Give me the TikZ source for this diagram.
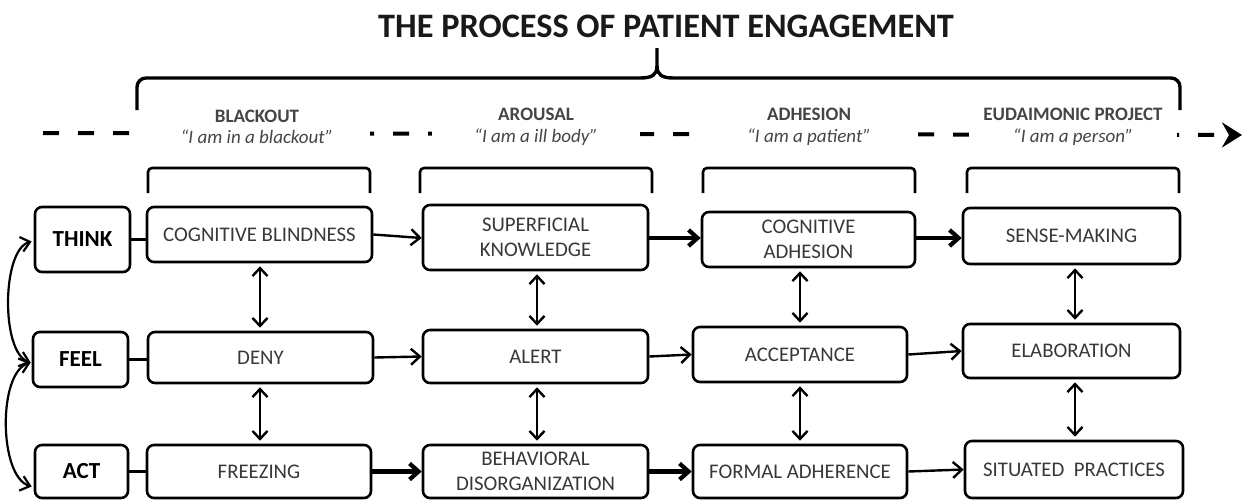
\documentclass[tikz,border=0pt]{standalone}
\usepackage{fontspec}
\setmainfont{Carlito}
\usetikzlibrary{arrows.meta,calc}
\definecolor{boxtext}{HTML}{383838}
\definecolor{stagetext}{HTML}{454545}
\begin{document}
\begin{tikzpicture}[x=1pt,y=-1pt,
  box/.style={draw=black, line width=2.6pt, rounded corners=7pt, fill=white,
    inner sep=0pt, align=center, text=boxtext,
    font=\fontsize{20.8}{25}\selectfont},
  facet/.style={box, text=black, font=\fontsize{23}{25}\bfseries\selectfont},
  stage/.style={fill=white, inner sep=0pt, minimum height=46pt, align=center,
    text=stagetext, font=\fontsize{19}{21.5}\selectfont},
  flow/.style={line width=2.4pt, -{Straight Barb[length=9pt,width=16pt]}},
  strong/.style={line width=4.2pt, -{Straight Barb[length=9pt,width=16pt]}},
  link/.style={line width=2.4pt,
    {Straight Barb[length=8pt,width=15pt]}-{Straight Barb[length=8pt,width=15pt]},
    shorten <=3pt, shorten >=3pt},
  loop/.style={line width=2.2pt,
    {Straight Barb[length=9pt,width=15pt]}-{Straight Barb[length=9pt,width=15pt]}},
  brace/.style={line width=3.4pt, rounded corners=9pt},
  bracket/.style={line width=2.6pt, rounded corners=4pt}
]
\useasboundingbox (0,0) rectangle (1247,499);

% title
\node[anchor=base, font=\fontsize{34.3}{38}\bfseries\selectfont, text=black!90]
  (title) at (666,37) {THE PROCESS OF PATIENT ENGAGEMENT};

% dashed time line running under the stage names
\coordinate (tlstart) at (43,133);
\coordinate (tlend) at (1242,135);
\draw[line width=4pt, dash pattern=on 16pt off 19pt, -{Stealth[length=20pt,width=25pt,inset=7pt]}]
  (tlstart) -- (tlend);

% stage names
\node[stage, minimum width=226pt] (s1) at (257,127)
  {\textbf{BLACKOUT}\\\itshape “I am in a blackout”};
\node[stage, minimum width=208pt] (s2) at (536,127)
  {\textbf{AROUSAL}\\\itshape “I am a ill body”};
\node[stage, minimum width=208pt] (s3) at (809,127)
  {\textbf{ADHESION}\\\itshape “I am a patient”};
\node[stage, minimum width=208pt] (s4) at (1073,127)
  {\textbf{EUDAIMONIC PROJECT}\\\itshape “I am a person”};

% overall brace
\coordinate (bl) at (137,110);
\coordinate (br) at (1180,110);
\coordinate (tip) at (657,48);
\draw[brace] (bl) -- (137,78) -- (640,78);
\draw[brace] (br) -- (1180,78) -- (674,78);
\draw[line width=3.4pt] (640,78) .. controls (652,78) and (657,75) .. (657,66) -- (tip);
\draw[line width=3.4pt] (674,78) .. controls (662,78) and (657,75) .. (657,66);

% stage brackets
\draw[bracket] (148,193) -- (148,168) -- (370,168) -- (370,193);
\draw[bracket] (420,193) -- (420,168) -- (652,168) -- (652,193);
\draw[bracket] (703,193) -- (703,168) -- (915,168) -- (915,193);
\draw[bracket] (967,193) -- (967,168) -- (1179,168) -- (1179,193);

% facets
\node[facet, minimum width=95pt, minimum height=65pt] (think) at (82.5,239.5) {THINK};
\node[facet, minimum width=95pt, minimum height=55pt] (feel) at (80.5,359.5) {FEEL};
\node[facet, minimum width=93pt, minimum height=53pt] (act) at (81.5,471.5) {ACT};

% blackout
\node[box, minimum width=225pt, minimum height=55pt] (cb) at (259.5,234.5) {COGNITIVE BLINDNESS};
\node[box, minimum width=225pt, minimum height=51pt] (deny) at (260.5,357.5) {DENY};
\node[box, minimum width=224pt, minimum height=53pt] (frz) at (259,471.5) {FREEZING};

% arousal
\node[box, minimum width=225pt, minimum height=65pt] (sk) at (535.5,237.5) {SUPERFICIAL\\KNOWLEDGE};
\node[box, minimum width=225pt, minimum height=53pt] (alert) at (535.5,356.5) {ALERT};
\node[box, minimum width=225pt, minimum height=53pt] (bd) at (535.5,471.5) {BEHAVIORAL\\DISORGANIZATION};

% adhesion
\node[box, minimum width=213pt, minimum height=55pt] (ca) at (808.5,239.5) {COGNITIVE\\ADHESION};
\node[box, minimum width=214pt, minimum height=55pt] (acc) at (800,354.5) {ACCEPTANCE};
\node[box, minimum width=214pt, minimum height=53pt] (fa) at (800,471.5) {FORMAL ADHERENCE};

% eudaimonic project
\node[box, minimum width=217pt, minimum height=56pt] (sm) at (1071.5,236) {SENSE-MAKING};
\node[box, minimum width=217pt, minimum height=54pt] (ela) at (1071.5,351) {ELABORATION};
\node[box, minimum width=218pt, minimum height=57pt] (sp) at (1074,469.5) {SITUATED~~PRACTICES};

% facet ties
\draw[line width=2.4pt] (think.east) -- (cb.west |- think.east);
\draw[line width=2.4pt] (feel.east) -- (deny.west |- feel.east);
\draw[line width=2.4pt] (act.east) -- (frz.west |- act.east);

% curved links between facets
\coordinate (lt) at ($(think.west)+(-2,2)$);
\coordinate (lf) at ($(feel.west)+(-1,3)$);
\coordinate (la) at ($(act.west)+(-2,15)$);
\draw[loop] (lt) .. controls +(-30,8) and +(-30,-10) .. (lf);
\draw[loop] (lf) .. controls +(-33,10) and +(-33,-10) .. (la);

% progression between stages
\draw[flow] (cb.east) -- (sk.west |- 0,238);
\draw[flow] (deny.east) -- (alert.west);
\draw[strong] (frz.east) -- (bd.west);
\draw[strong] (sk.east |- 0,238) -- (ca.west |- 0,238);
\draw[flow] (alert.east) -- (acc.west);
\draw[strong] (bd.east) -- (fa.west);
\draw[strong] (ca.east |- 0,238) -- (sm.west |- 0,238);
\draw[flow] (acc.east) -- (ela.west);
\draw[flow] (fa.east) -- (sp.west);

% links within each stage
\draw[link] (cb.south -| 260,0) -- (deny.north -| 260,0);
\draw[link] (deny.south -| 260,0) -- (frz.north -| 260,0);
\draw[link] (sk.south -| 537,0) -- (alert.north -| 537,0);
\draw[link] (alert.south -| 537,0) -- (bd.north -| 537,0);
\draw[link] (ca.south -| 800,0) -- (acc.north);
\draw[link] (acc.south) -- (fa.north);
\draw[link] (sm.south -| 1075,0) -- (ela.north -| 1075,0);
\draw[link] (ela.south -| 1075,0) -- (sp.north -| 1075,0);
\end{tikzpicture}
\end{document}
